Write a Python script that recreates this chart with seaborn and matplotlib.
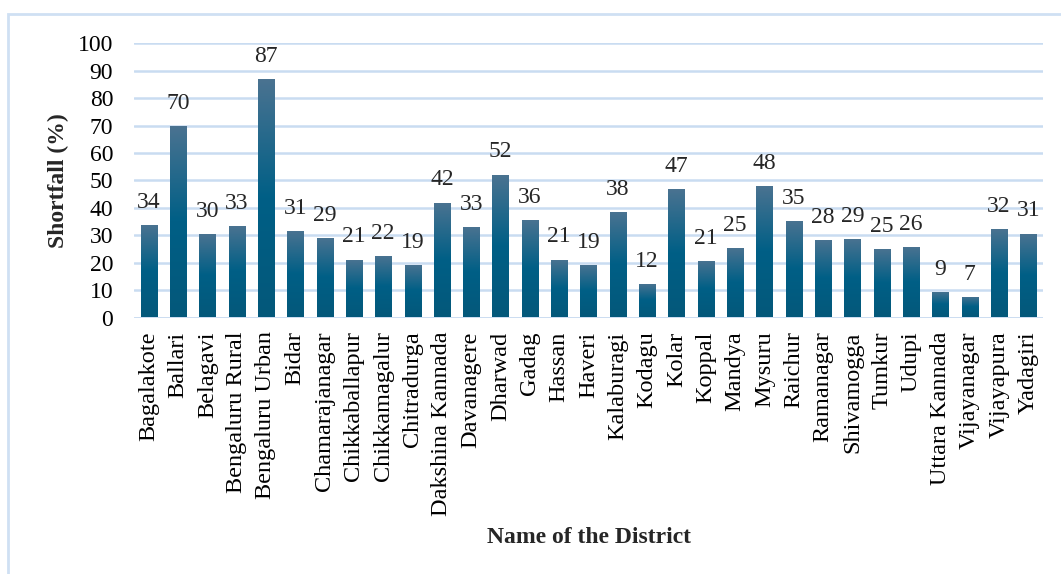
import numpy as np
import pandas as pd
import matplotlib
matplotlib.use("Agg")
import matplotlib.pyplot as plt
from matplotlib.colors import LinearSegmentedColormap
from matplotlib.patches import Rectangle
import seaborn as sns

districts = ["Bagalakote", "Ballari", "Belagavi", "Bengaluru Rural", "Bengaluru Urban",
             "Bidar", "Chamarajanagar", "Chikkaballapur", "Chikkamagalur", "Chitradurga",
             "Dakshina Kannada", "Davanagere", "Dharwad", "Gadag", "Hassan", "Haveri",
             "Kalaburagi", "Kodagu", "Kolar", "Koppal", "Mandya", "Mysuru", "Raichur",
             "Ramanagar", "Shivamogga", "Tumkur", "Udupi", "Uttara Kannada",
             "Vijayanagar", "Vijayapura", "Yadagiri"]
shortfall = [33.8, 69.9, 30.4, 33.4, 87.0, 31.4, 29.1, 21.1, 22.4, 19.2,
             41.9, 33.0, 52.1, 35.6, 21.1, 19.2, 38.4, 12.2, 46.9, 20.6,
             25.4, 48.0, 35.2, 28.3, 28.6, 25.0, 25.7, 9.3, 7.4, 32.3, 30.6]
yticks = list(range(0, 101, 10))

df = pd.DataFrame({"District": districts, "Shortfall": shortfall})

sns.set_style("white")
plt.rcParams["font.family"] = ["Liberation Serif", "DejaVu Serif"]

fig = plt.figure(figsize=(10.61, 5.74), dpi=100)
ax = fig.add_axes([134 / 1061, 1 - 317.5 / 574, 909 / 1061, 274 / 574])

grid_col = "#c9dcf1"
sns.barplot(data=df, x="District", y="Shortfall", ax=ax, width=0.55,
            color="#005f86", saturation=1, zorder=3)

ax.set_yticks(yticks)
ax.yaxis.grid(True, color=grid_col, linewidth=1.8, zorder=0)
ax.set_axisbelow(True)
for s in ax.spines.values():
    s.set_visible(False)
ax.axhline(0, color=grid_col, linewidth=1.8, zorder=1)
ax.tick_params(axis="y", length=0, labelsize=17, colors="black", pad=15)
ax.tick_params(axis="x", length=0, labelsize=17.5, colors="black", pad=10)
plt.setp(ax.get_xticklabels(), rotation=90)

# gradient fill for each bar, clipped to the bar
cmap = LinearSegmentedColormap.from_list(
    "bar", [(0.0, "#4b7391"), (0.5, "#005f86"), (1.0, "#04587a")])
grad = np.linspace(0, 1, 256).reshape(-1, 1)
for p in ax.patches:
    x0, y0 = p.get_x(), p.get_y()
    w, h = p.get_width(), p.get_height()
    im = ax.imshow(grad, cmap=cmap, aspect="auto", origin="upper",
                   extent=[x0, x0 + w, y0, y0 + h], zorder=3)
    im.set_clip_path(p)
    p.set_facecolor("none")
    p.set_edgecolor("none")
ax.set_xlim(-0.5, len(districts) - 0.5)
ax.set_ylim(0, 100)

for i, v in enumerate(shortfall):
    ax.text(i, v + 6.3, f"{v:.0f}", ha="center", va="baseline", fontsize=17,
            zorder=4, clip_on=False)

ax.set_ylabel("Shortfall (%)", fontsize=17, fontweight="bold")
ax.set_xlabel("Name of the District", fontsize=17, fontweight="bold")
ax.xaxis.set_label_coords((589 - 134) / 909, -(537 - 317.5) / 274)
ax.xaxis.label.set_va("center")
ax.yaxis.set_label_coords(-(134 - 58) / 909, 0.5)
ax.yaxis.label.set_va("center")

fig.add_artist(Rectangle((8 / 1061, -0.05), 1.1, 1 - 14 / 574 + 0.05,
                         transform=fig.transFigure, fill=False,
                         edgecolor="#cfe0f3", linewidth=2))

fig.savefig("out.png", dpi=100)
